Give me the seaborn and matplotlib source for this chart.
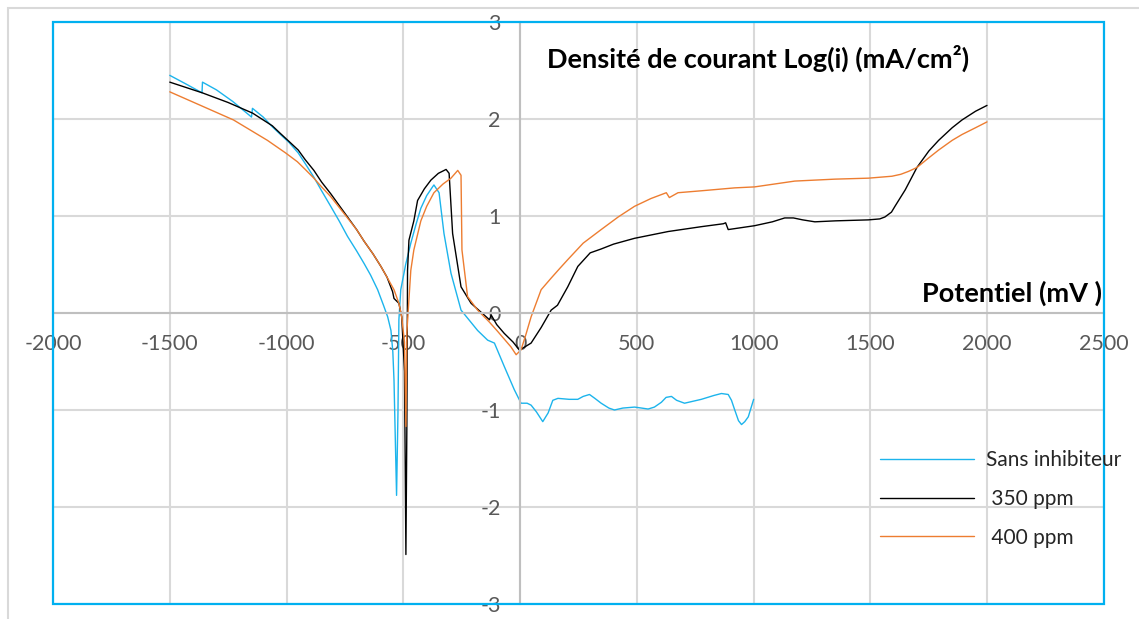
import numpy as np
import pandas as pd
import seaborn as sns
import matplotlib.pyplot as plt
from matplotlib.patches import Rectangle

# Sans inhibiteur
x_sans = [-1500, -1430, -1362, -1360, -1300, -1230, -1150, -1146, -1100, -1061,
          -1026, -990, -950, -920, -883, -850, -811, -775, -739, -700,
          -668, -640, -610, -585, -567, -553, -545, -540, -529, -523,
          -519, -511, -490, -468, -445, -425, -400, -375, -369, -347,
          -326, -296, -253, -182, -139, -110, -68, -25, 4, 30,
          47, 70, 97, 120, 140, 162, 210, 247, 270, 297,
          320, 347, 380, 404, 440, 490, 520, 548, 575, 605,
          625, 648, 670, 704, 776, 830, 862, 891, 905, 919,
          935, 948, 962, 977, 1000]
y_sans = [2.45, 2.36, 2.27, 2.38, 2.30, 2.18, 2.02, 2.11, 2.02, 1.92,
          1.84, 1.76, 1.65, 1.54, 1.40, 1.26, 1.10, 0.95, 0.79, 0.64,
          0.51, 0.39, 0.24, 0.08, -0.04, -0.18, -0.40, -0.69, -1.88, -1.03,
          -0.07, 0.24, 0.50, 0.72, 0.92, 1.08, 1.21, 1.30, 1.32, 1.24,
          0.82, 0.41, 0.03, -0.18, -0.28, -0.31, -0.55, -0.79, -0.93, -0.93,
          -0.95, -1.02, -1.12, -1.03, -0.90, -0.88, -0.89, -0.89, -0.86, -0.84,
          -0.88, -0.93, -0.98, -1.00, -0.98, -0.97, -0.98, -0.99, -0.97, -0.92,
          -0.87, -0.86, -0.90, -0.93, -0.89, -0.85, -0.83, -0.84, -0.90, -1.00,
          -1.11, -1.15, -1.12, -1.07, -0.89]

# 350 ppm
x_350 = [-1500, -1361, -1250, -1145, -1061, -1026, -990, -950, -920, -883,
         -850, -811, -775, -739, -700, -668, -630, -596, -570, -546,
         -540, -519, -507, -495, -489, -485, -482, -476, -455, -439,
         -410, -382, -350, -317, -304, -289, -253, -210, -131, -124,
         -100, -68, -30, -4, 20, 47, 90, 133, 160, 204,
         247, 300, 347, 400, 490, 634, 776, 870, 880, 891,
         1004, 1080, 1133, 1170, 1210, 1262, 1350, 1491, 1540, 1562,
         1590, 1605, 1649, 1699, 1750, 1792, 1850, 1892, 1950, 1999]
y_350 = [2.38, 2.27, 2.17, 2.06, 1.93, 1.85, 1.77, 1.68, 1.58, 1.47,
         1.35, 1.23, 1.11, 0.99, 0.86, 0.74, 0.61, 0.48, 0.37, 0.22,
         0.15, 0.10, -0.04, -0.60, -2.49, -1.20, 0.44, 0.75, 0.95, 1.16,
         1.28, 1.37, 1.44, 1.48, 1.44, 0.82, 0.27, 0.10, -0.07, -0.02,
         -0.12, -0.21, -0.30, -0.38, -0.35, -0.31, -0.15, 0.03, 0.08, 0.27,
         0.48, 0.62, 0.66, 0.71, 0.77, 0.84, 0.89, 0.92, 0.93, 0.86,
         0.90, 0.94, 0.98, 0.98, 0.96, 0.94, 0.95, 0.96, 0.97, 0.99,
         1.04, 1.10, 1.27, 1.50, 1.67, 1.78, 1.91, 1.99, 2.08, 2.14]

# 400 ppm
x_400 = [-1500, -1368, -1227, -1082, -1004, -954, -920, -883, -850, -811,
         -775, -739, -700, -668, -630, -596, -570, -540, -519, -507,
         -495, -489, -485, -468, -455, -425, -400, -369, -330, -296,
         -267, -253, -249, -225, -182, -133, -96, -39, -17, 4,
         25, 47, 90, 133, 170, 204, 270, 347, 420, 490,
         560, 626, 639, 676, 776, 919, 1004, 1176, 1348, 1491,
         1592, 1630, 1663, 1699, 1750, 1792, 1850, 1892, 1950, 1999]
y_400 = [2.28, 2.14, 1.99, 1.78, 1.65, 1.56, 1.48, 1.39, 1.30, 1.20,
         1.09, 0.98, 0.86, 0.74, 0.61, 0.48, 0.37, 0.24, 0.10, -0.04,
         -0.30, -1.17, -0.20, 0.44, 0.65, 0.95, 1.10, 1.24, 1.33, 1.39,
         1.47, 1.42, 0.65, 0.17, 0.03, -0.09, -0.19, -0.35, -0.43, -0.38,
         -0.22, -0.04, 0.24, 0.36, 0.46, 0.55, 0.72, 0.86, 0.99, 1.10,
         1.18, 1.24, 1.19, 1.24, 1.26, 1.29, 1.30, 1.36, 1.38, 1.39,
         1.41, 1.43, 1.46, 1.50, 1.60, 1.68, 1.78, 1.84, 1.91, 1.97]

labels = ['Sans inhibiteur', ' 350 ppm', ' 400 ppm']
colors = ['#1cb4ec', '#000000', '#ed7d31']
x_ticks = [-2000, -1500, -1000, -500, 0, 500, 1000, 1500, 2000, 2500]
y_ticks = [-3, -2, -1, 0, 1, 2, 3]

sns.set_style('white')
plt.rcParams['font.family'] = ['Lato', 'DejaVu Sans']
plt.rcParams['axes.unicode_minus'] = False

fig = plt.figure(figsize=(11.39, 6.19), dpi=100)
ax = fig.add_axes([53 / 1139, 1 - 604 / 619, 1051 / 1139, 582 / 619])

for xs, ys, lab, col in zip([x_sans, x_350, x_400], [y_sans, y_350, y_400], labels, colors):
    sns.lineplot(x=xs, y=ys, sort=False, estimator=None, color=col, lw=1.0,
                 label=lab, ax=ax)

ax.set_xlim(-2000, 2500)
ax.set_ylim(-3, 3)
ax.set_xticks(x_ticks)
ax.set_yticks(y_ticks)
ax.grid(True, color='#d9d9d9', lw=1.5)
ax.set_axisbelow(True)

# axes cross at the origin
for side in ['top', 'right']:
    ax.spines[side].set_visible(False)
ax.spines['left'].set_position(('data', 0))
ax.spines['bottom'].set_position(('data', 0))
ax.spines['left'].set_color('#bfbfbf')
ax.spines['bottom'].set_color('#bfbfbf')
ax.spines['left'].set_linewidth(1.5)
ax.spines['bottom'].set_linewidth(1.5)
ax.tick_params(axis='both', length=0, labelsize=15.5, labelcolor='#595959')
ax.tick_params(axis='x', pad=15)
ax.tick_params(axis='y', pad=14)
ax.set_xlabel('')
ax.set_ylabel('')

# cyan chart frame
ax.add_patch(Rectangle((0, 0), 1, 1, transform=ax.transAxes, fill=False,
                       edgecolor='#00b0f0', lw=1.6, clip_on=False, zorder=5))
# outer light border
fig.add_artist(Rectangle((8 / 1139, -0.1), 1.2, 1.1 - 8 / 619, transform=fig.transFigure,
                         fill=False, edgecolor='#d9d9d9', lw=1.5))

ax.text(1017, 2.63, 'Densité de courant Log(i) (mA/cm²)', ha='center', va='center',
        fontsize=19.5, fontweight='bold', color='#000000')
ax.text(2490, 0.2, 'Potentiel (mV )', ha='right', va='center',
        fontsize=19.5, fontweight='bold', color='#000000')

ax.legend(loc='upper left', bbox_to_anchor=(876 / 1139, 1 - 446 / 619),
          bbox_transform=fig.transFigure, frameon=False, fontsize=15,
          borderaxespad=0, borderpad=0.2,
          handlelength=4.5, handletextpad=0.6, labelspacing=0.9)

fig.savefig('out.png', dpi=100)
